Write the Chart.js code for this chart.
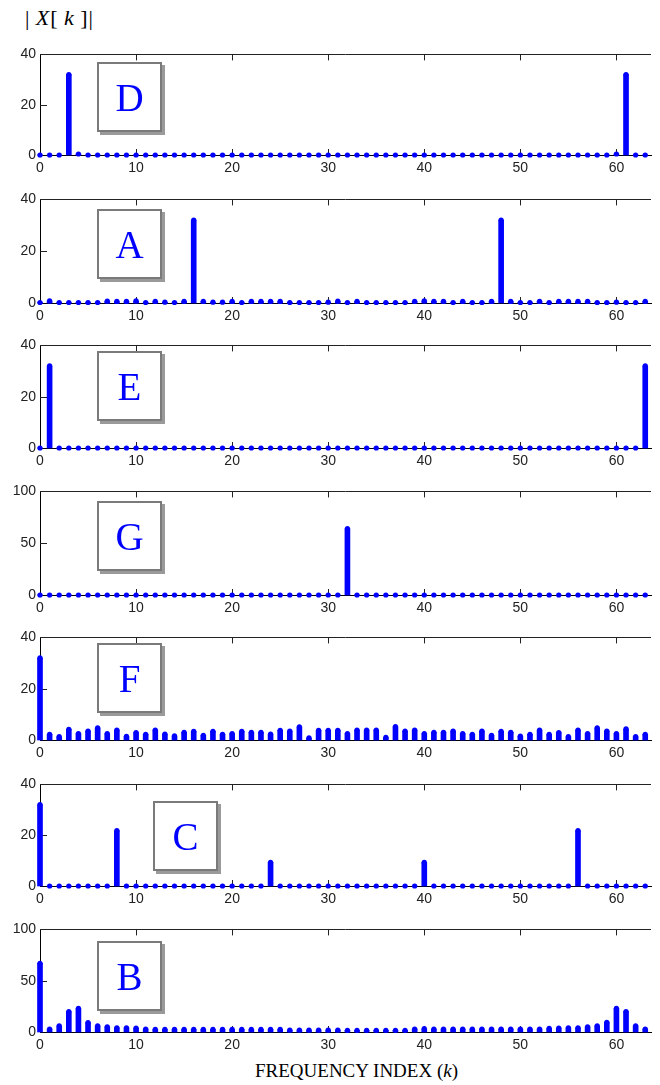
<!DOCTYPE html>
<html lang="en">
<head>
  <meta charset="UTF-8" />
  <title>DFT magnitude panels</title>
  <script src="https://cdn.jsdelivr.net/npm/chart.js"></script>
  <style>
    body { margin: 0; background: #fff; }
    #page { position: relative; width: 660px; height: 1085px; overflow: hidden; }
    #page canvas { position: absolute; left: 0; }
    .tag {
      position: absolute;
      width: 61px; height: 66px;
      border: 2px solid #7a7a7a;
      box-shadow: 3px 3px 0 #9a9a9a;
      background: #fff;
      color: #0000ff;
      font: 39px "Liberation Serif", "Times New Roman", serif;
      text-align: center;
      line-height: 68px;
      z-index: 2;
    }
    #ylab {
      position: absolute; left: 25px; top: 5px;
      font: 22px "Liberation Serif", serif; color: #000;
      letter-spacing: 1px;
    }
    #xlab {
      position: absolute; left: 255px; top: 1060px;
      font: 19px "Liberation Serif", serif; color: #000;
    }
  </style>
</head>
<body>
  <div id="page">
    <div id="ylab">|&thinsp;<i>X</i>[&thinsp;<i>k</i>&thinsp;]|</div>
    <div id="xlab">FREQUENCY INDEX (<i>k</i>)</div>
  </div>
  <script>
    // frequency index k
    const kIndex = [0,1,2,3,4,5,6,7,8,9,10,11,12,13,14,15,16,17,18,19,20,21,22,23,24,25,26,27,28,29,30,31,
                    32,33,34,35,36,37,38,39,40,41,42,43,44,45,46,47,48,49,50,51,52,53,54,55,56,57,58,59,60,61,62,63];

    // |X[k]| per panel
    const magD = [0,0,0,32,0.4,0,0,0,0,0,0,0,0,0,0,0,0,0,0,0,0,0,0,0,0,0,0,0,0,0,0,0,
                  0,0,0,0,0,0,0,0,0,0,0,0,0,0,0,0,0,0,0,0,0,0,0,0,0,0,0,0,0.4,32,0,0];
    const magA = [0.2,0.8,0.2,0.2,0.2,0.2,0.2,0.7,0.6,0.6,0.8,0.2,0.6,0.3,0.2,0.6,32,0.6,0.3,0.3,0.6,0.2,0.6,0.6,0.6,0.6,0.2,0.2,0.2,0.2,0.3,0.7,
                  0.2,0.6,0.2,0.2,0.2,0.2,0.2,0.6,0.8,0.6,0.6,0.2,0.6,0.2,0.2,0.6,32,0.6,0.2,0.2,0.6,0.2,0.6,0.6,0.6,0.6,0.2,0.2,0.3,0.2,0.2,0.6];
    const magE = [0,32,0,0,0,0,0,0,0,0,0,0,0,0,0,0,0,0,0,0,0,0,0,0,0,0,0,0,0,0,0,0,
                  0,0,0,0,0,0,0,0,0,0,0,0,0,0,0,0,0,0,0,0,0,0,0,0,0,0,0,0,0,0,0,32];
    const magG = [0,0,0,0,0,0,0,0,0,0,0,0,0,0,0,0,0,0,0,0,0,0,0,0,0,0,0,0,0,0,0,0,
                  64,0,0,0,0,0,0,0,0,0,0,0,0,0,0,0,0,0,0,0,0,0,0,0,0,0,0,0,0,0,0,0];
    const magF = [32,2.2,1.3,4.2,2.5,3.5,4.7,2.5,3.9,1.4,2.9,2.2,3.9,2.3,1.6,3.0,3.4,1.8,3.4,2.2,2.5,3.4,3.0,3.0,2.3,3.8,3.5,5.1,0.8,3.8,3.8,3.8,
                  2.5,3.9,3.9,3.9,1.0,5.2,3.5,3.9,2.5,3.0,3.0,3.5,2.5,2.2,3.5,1.8,3.4,3.0,1.5,2.2,3.9,2.2,2.9,1.3,3.9,2.5,4.7,3.5,2.5,4.3,1.3,2.2];
    const magC = [32,0,0,0,0,0,0,0,21.8,0,0,0,0,0,0,0,0,0,0,0,0,0,0,0,9.3,0,0,0,0,0,0,0,
                  0,0,0,0,0,0,0,0,9.3,0,0,0,0,0,0,0,0,0,0,0,0,0,0,0,21.8,0,0,0,0,0,0,0];
    const magB = [67,2.9,6,20,23,9.2,6,5,4.1,4.1,3.8,2.9,2.5,2.5,2.5,2.5,2.5,2.5,2.5,2.5,2.5,2.5,2.5,2.5,2.5,2.5,1.9,1.9,1.9,1.9,1.9,1.9,
                  1.6,1.6,1.6,1.6,1.6,1.6,1.6,2.9,3.2,2.9,2.9,2.9,2.9,2.9,2.9,2.9,2.9,2.9,2.9,2.9,2.9,3.5,3.8,4.1,4.1,5,6,9.5,23,20,6,2.9];

    const panelLetters = ['D', 'A', 'E', 'G', 'F', 'C', 'B'];
    const panelValues = [magD, magA, magE, magG, magF, magC, magB];
    const panelYMax = [40, 40, 40, 100, 40, 40, 100];
    const panelYStep = [20, 20, 20, 50, 20, 20, 50];
    const xTicks = [0, 10, 20, 30, 40, 50, 60];

    // layout (pixels on the page)
    const plotTop = [52, 197, 343, 489, 635, 782, 927];
    const plotBottom = [155, 303, 448, 595, 740, 886, 1032];
    const tagPos = [[97, 62], [97, 209], [97, 351], [97, 501], [97, 643], [153, 801], [97, 941]];

    const BLUE = '#0000ff';
    const PAD_TOP = 10, X_AXIS_H = 26;

    // top border line plus the inward tick marks
    const frame = {
      id: 'frame',
      beforeDatasetsDraw(chart) {
        const { ctx, chartArea: a, scales: { x, y } } = chart;
        ctx.save();
        ctx.strokeStyle = '#222';
        ctx.lineWidth = 1;
        ctx.beginPath();
        ctx.moveTo(a.left, Math.round(a.top) + 0.5);
        ctx.lineTo(a.right, Math.round(a.top) + 0.5);
        x.ticks.forEach(t => {
          if (t.value === 0) return;
          const px = Math.round(x.getPixelForValue(t.value)) + 0.5;
          ctx.moveTo(px, a.top); ctx.lineTo(px, a.top + 6);
          ctx.moveTo(px, a.bottom); ctx.lineTo(px, a.bottom - 6);
        });
        y.ticks.forEach(t => {
          if (t.value === y.min || t.value === y.max) return;
          const py = Math.round(y.getPixelForValue(t.value)) + 0.5;
          ctx.moveTo(a.left, py); ctx.lineTo(a.left + 7, py);
        });
        ctx.stroke();
        ctx.restore();
      }
    };

    const page = document.getElementById('page');
    const tickFont = { family: '"Liberation Sans", Arial, sans-serif', size: 14 };

    panelValues.forEach((vals, i) => {
      const h = plotBottom[i] - plotTop[i];
      const cv = document.createElement('canvas');
      cv.width = 660;
      cv.height = PAD_TOP + h + X_AXIS_H;
      cv.style.top = (plotTop[i] - PAD_TOP) + 'px';
      page.appendChild(cv);

      const tag = document.createElement('div');
      tag.className = 'tag';
      tag.textContent = panelLetters[i];
      tag.style.left = tagPos[i][0] + 'px';
      tag.style.top = tagPos[i][1] + 'px';
      page.appendChild(tag);

      const pts = kIndex.map((k, j) => ({ x: k, y: vals[j] }));

      new Chart(cv, {
        type: 'bar',
        data: {
          datasets: [
            { type: 'bar', data: pts, backgroundColor: BLUE, barThickness: 5, borderWidth: 0, clip: false, order: 2 },
            { type: 'scatter', data: pts, backgroundColor: BLUE, borderWidth: 0, pointRadius: 2.6, clip: false, order: 1 }
          ]
        },
        options: {
          responsive: false,
          animation: false,
          events: [],
          layout: { padding: { top: PAD_TOP, right: 9, left: 0, bottom: 0 } },
          plugins: { legend: { display: false }, tooltip: { enabled: false } },
          scales: {
            x: {
              type: 'linear',
              offset: false,
              min: 0,
              max: 63.6,
              grid: { display: false, drawTicks: false },
              border: { display: true, color: '#000', width: 1 },
              afterBuildTicks: s => { s.ticks = xTicks.map(v => ({ value: v })); },
              afterFit: s => { s.height = X_AXIS_H; },
              ticks: { font: tickFont, color: '#222', padding: 5, maxRotation: 0, autoSkip: false }
            },
            y: {
              min: 0,
              max: panelYMax[i],
              grid: { display: false, drawTicks: false },
              border: { display: true, color: '#000', width: 1 },
              afterFit: s => { s.width = 40; },
              ticks: { stepSize: panelYStep[i], font: tickFont, color: '#222', padding: 4 }
            }
          }
        },
        plugins: [frame]
      });
    });
  </script>
</body>
</html>
